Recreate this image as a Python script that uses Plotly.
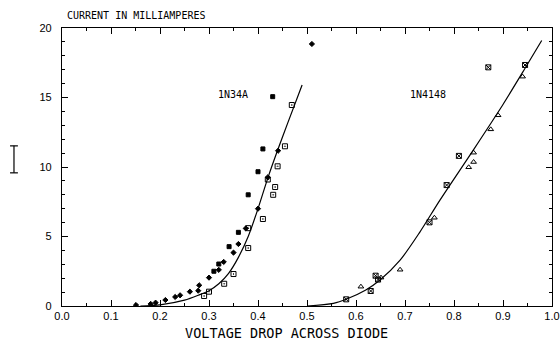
import plotly.graph_objects as go

# ---- data ----
# 1N34A (germanium)
n34_diamond_v = [0.151, 0.181, 0.191, 0.211, 0.231, 0.241, 0.261, 0.278, 0.280, 0.300, 0.320, 0.330,
                 0.350, 0.360, 0.375, 0.400, 0.420, 0.441, 0.510]
n34_diamond_i = [0.07, 0.15, 0.24, 0.43, 0.65, 0.77, 1.03, 1.10, 1.49, 2.04, 2.60, 3.17,
                 3.84, 4.46, 5.58, 7.00, 9.26, 11.17, 18.85]
n34_fsq_v = [0.310, 0.320, 0.341, 0.360, 0.380, 0.400, 0.410, 0.430]
n34_fsq_i = [2.50, 3.02, 4.27, 5.30, 8.00, 9.66, 11.30, 15.06]
n34_osq_v = [0.290, 0.300, 0.331, 0.350, 0.380, 0.380, 0.410, 0.431, 0.435, 0.420, 0.440, 0.455, 0.469]
n34_osq_i = [0.72, 1.03, 1.60, 2.30, 4.17, 5.60, 6.26, 8.00, 8.56, 9.10, 10.05, 11.49, 14.46]
n34_curve_v = [0.16, 0.20, 0.25, 0.28, 0.30, 0.32, 0.34, 0.36, 0.38, 0.40, 0.42, 0.44, 0.46, 0.49]
n34_curve_i = [0.0, 0.08, 0.42, 0.80, 1.10, 1.60, 2.35, 3.50, 5.00, 7.00, 9.20, 11.20, 13.10, 15.90]

# 1N4148 (silicon)
n41_xsq_v = [0.580, 0.630, 0.640, 0.645, 0.750, 0.785, 0.810, 0.870, 0.945]
n41_xsq_i = [0.48, 1.08, 2.18, 1.90, 6.02, 8.70, 10.80, 17.17, 17.34]
n41_tri_v = [0.610, 0.651, 0.690, 0.760, 0.830, 0.840, 0.840, 0.875, 0.890, 0.940]
n41_tri_i = [1.39, 2.04, 2.61, 6.35, 9.98, 10.36, 11.03, 12.71, 13.72, 16.50]
n41_curve_v = [0.50, 0.554, 0.581, 0.62, 0.649, 0.69, 0.73, 0.771, 0.839, 0.90, 0.945, 0.979]
n41_curve_i = [0.0, 0.19, 0.50, 1.15, 1.87, 3.30, 5.30, 7.60, 11.20, 14.50, 17.10, 19.10]

labels = ["1N34A", "1N4148"]
label_v = [0.349, 0.746]
label_i = [15.25, 15.25]

x_ticks = [0.0, 0.1, 0.2, 0.3, 0.4, 0.5, 0.6, 0.7, 0.8, 0.9, 1.0]
y_ticks = [0, 5, 10, 15, 20]

ERR_CENTER = 10.55
ERR_HALF = 0.97

MONO = "DejaVu Sans Mono, Liberation Mono, monospace"
SANS = "Liberation Sans, DejaVu Sans, sans-serif"

fig = go.Figure()

def curve(v, i):
    fig.add_trace(go.Scatter(x=v, y=i, mode="lines", line=dict(color="black", width=1.2, shape="spline", smoothing=0.8),
                             hoverinfo="skip", showlegend=False))

def pts(v, i, sym, size, lw=1):
    fig.add_trace(go.Scatter(x=v, y=i, mode="markers",
                             marker=dict(symbol=sym, size=size, color="black", line=dict(color="black", width=lw)),
                             showlegend=False))

curve(n34_curve_v, n34_curve_i)
curve(n41_curve_v, n41_curve_i)
pts(n34_diamond_v, n34_diamond_i, "diamond", 4)
pts(n34_fsq_v, n34_fsq_i, "square", 4)
pts(n34_osq_v, n34_osq_i, "square-open-dot", 5)
pts(n41_xsq_v, n41_xsq_i, "square-x-open", 5)
pts(n41_tri_v, n41_tri_i, "triangle-up-open", 5)

for t, xv, yv in zip(labels, label_v, label_i):
    fig.add_annotation(x=xv, y=yv, text=t, showarrow=False, font=dict(family=MONO, size=10, color="black"))

fig.add_annotation(xref="paper", yref="paper", x=0.006, y=1.0, yshift=13, xanchor="left", yanchor="middle",
                   text="CURRENT IN MILLIAMPERES", showarrow=False, font=dict(family=MONO, size=10, color="black"))

fig.add_annotation(xref="paper", yref="paper", x=0.458, y=-0.097, xanchor="center", yanchor="middle",
                   text="VOLTAGE DROP ACROSS DIODE", showarrow=False, font=dict(family=MONO, size=13.5, color="black"))

# error-bar scale glyph at left
ex = -0.098
fig.add_shape(type="line", xref="paper", yref="y", x0=ex, x1=ex, y0=ERR_CENTER - ERR_HALF, y1=ERR_CENTER + ERR_HALF,
              line=dict(color="black", width=1.2))
for yy in (ERR_CENTER - ERR_HALF, ERR_CENTER + ERR_HALF):
    fig.add_shape(type="line", xref="paper", yref="y", x0=ex - 0.008, x1=ex + 0.008, y0=yy, y1=yy,
                  line=dict(color="black", width=1.2))

axis_common = dict(showgrid=False, zeroline=False, showline=True, linecolor="black", linewidth=1.3,
                   mirror="ticks", ticks="inside", ticklen=6, tickwidth=1.2, tickcolor="black",
                   automargin=False, tickfont=dict(family=SANS, size=11, color="black"))

fig.update_xaxes(range=[0, 1.0], tickvals=x_ticks, ticktext=[f"{v:.1f}" for v in x_ticks],
                 minor=dict(dtick=0.05, ticks="inside", ticklen=3, tickwidth=1.2, tickcolor="black"),
                 ticklabelstandoff=0, **axis_common)
fig.update_yaxes(range=[0, 20], tickvals=y_ticks, ticktext=[str(v) for v in y_ticks],
                 minor=dict(dtick=1, ticks="inside", ticklen=3, tickwidth=1.2, tickcolor="black"),
                 ticklabelstandoff=7, **axis_common)

fig.update_layout(width=560, height=340, margin=dict(l=62, r=8, t=28, b=34),
                  plot_bgcolor="white", paper_bgcolor="white", font=dict(family=SANS))

fig.write_html("out.html")
